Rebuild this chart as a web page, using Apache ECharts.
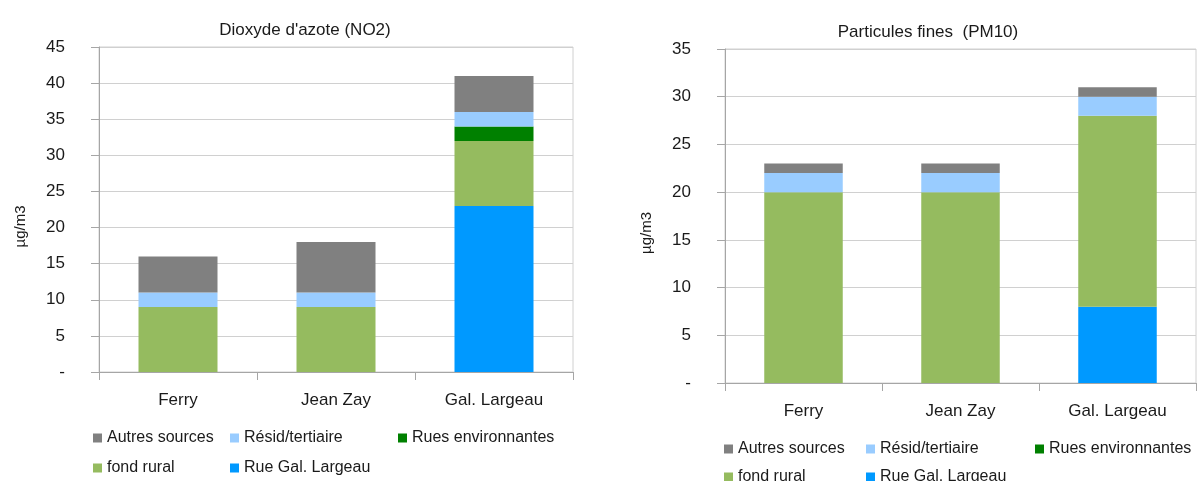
<!DOCTYPE html>
<html><head><meta charset="utf-8">
<script src="https://cdn.jsdelivr.net/npm/echarts@6/dist/echarts.min.js"></script>
<style>html,body{margin:0;padding:0;background:#fff}#c{width:1197px;height:481px}</style>
</head><body><div id="c"></div>
<script>
// Data
const categories = ['Ferry', 'Jean Zay', 'Gal. Largeau'];
const seriesNames = ['Autres sources', 'Résid/tertiaire', 'Rues environnantes', 'fond rural', 'Rue Gal. Largeau'];
// NO2 (µg/m3)
const no2RueGal = [0, 0, 23];
const no2Fond = [9, 9, 9];
const no2RuesEnv = [0, 0, 2];
const no2Resid = [2, 2, 2];
const no2Autres = [5, 7, 5];
// PM10 (µg/m3)
const pmRueGal = [0, 0, 8];
const pmFond = [20, 20, 20];
const pmRuesEnv = [0, 0, 0];
const pmResid = [2, 2, 2];
const pmAutres = [1, 1, 1];
const titles = ["Dioxyde d'azote (NO2)", 'Particules fines  (PM10)'];
const yUnit = 'µg/m3';

const colors = {
  'Autres sources': '#808080',
  'Résid/tertiaire': '#99ccff',
  'Rues environnantes': '#008000',
  'fond rural': '#95bb5f',
  'Rue Gal. Largeau': '#0099ff'
};
const FONT = '"Liberation Sans", Arial, sans-serif';
const txt = '#1a1a1a';

function mkSeries(idx, stackName, data) {
  // bottom to top order
  const order = [
    ['Rue Gal. Largeau', data.rueGal],
    ['fond rural', data.fond],
    ['Rues environnantes', data.ruesEnv],
    ['Résid/tertiaire', data.resid],
    ['Autres sources', data.autres]
  ];
  return order.map(([n, d]) => ({
    name: n, type: 'bar', stack: stackName, xAxisIndex: idx, yAxisIndex: idx,
    barWidth: '50%', itemStyle: { color: colors[n] }, data: d, animation: false
  }));
}

function mkY(idx, max, gap, pad) {
  return {
    gridIndex: idx, type: 'value', min: 0, max: max, interval: 5,
    name: yUnit, nameLocation: 'middle', nameGap: gap, nameRotate: 90,
    nameTextStyle: { fontFamily: FONT, fontSize: 15, color: txt, padding: [0, pad, 0, 0] },
    axisLine: { show: true, lineStyle: { color: '#a6a6a6' } },
    axisTick: { show: true, length: 8, lineStyle: { color: '#a6a6a6' } },
    axisLabel: { margin: 34, fontFamily: FONT, fontSize: 17, color: txt,
      formatter: v => v === 0 ? '-' : String(v) },
    splitLine: { show: true, lineStyle: { color: '#d0d0d0' } }
  };
}
function mkX(idx) {
  return {
    gridIndex: idx, type: 'category', data: categories,
    axisLine: { show: true, lineStyle: { color: '#a6a6a6' } },
    axisTick: { show: true, length: 8, lineStyle: { color: '#a6a6a6' } },
    axisLabel: { margin: 20, fontFamily: FONT, fontSize: 17, color: txt }
  };
}
function mkLegend(name, left, top) {
  return {
    data: [name], left: left, top: top, padding: 0, itemWidth: 9, itemHeight: 9,
    icon: 'rect', selectedMode: false,
    textStyle: { fontFamily: FONT, fontSize: 16, color: txt, lineHeight: 16 }
  };
}

const chart = echarts.init(document.getElementById('c'), null, { renderer: 'canvas' });
chart.setOption({
  animation: false,
  title: [
    { text: titles[0], left: 300, top: 17, textAlign: 'center',
      textStyle: { fontFamily: FONT, fontSize: 17, fontWeight: 'normal', color: txt } },
    { text: titles[1], left: 923, top: 19, textAlign: 'center',
      textStyle: { fontFamily: FONT, fontSize: 17, fontWeight: 'normal', color: txt } }
  ],
  grid: [
    { left: 99, top: 47, width: 474, height: 325, show: true, borderColor: '#d0d0d0', borderWidth: 1 },
    { left: 725, top: 49, width: 471, height: 334, show: true, borderColor: '#d0d0d0', borderWidth: 1 }
  ],
  xAxis: [mkX(0), mkX(1)],
  yAxis: [mkY(0, 45, 71, 34), mkY(1, 35, 71, 34)],
  legend: [
    mkLegend('Autres sources', 93, 430),
    mkLegend('Résid/tertiaire', 230, 430),
    mkLegend('Rues environnantes', 398, 430),
    mkLegend('fond rural', 93, 460),
    mkLegend('Rue Gal. Largeau', 230, 460),
    mkLegend('Autres sources', 724, 441),
    mkLegend('Résid/tertiaire', 866, 441),
    mkLegend('Rues environnantes', 1035, 441),
    mkLegend('fond rural', 724, 469),
    mkLegend('Rue Gal. Largeau', 866, 469)
  ],
  series: [
    ...mkSeries(0, 'no2', { rueGal: no2RueGal, fond: no2Fond, ruesEnv: no2RuesEnv, resid: no2Resid, autres: no2Autres }),
    ...mkSeries(1, 'pm10', { rueGal: pmRueGal, fond: pmFond, ruesEnv: pmRuesEnv, resid: pmResid, autres: pmAutres })
  ]
});
</script></body></html>
